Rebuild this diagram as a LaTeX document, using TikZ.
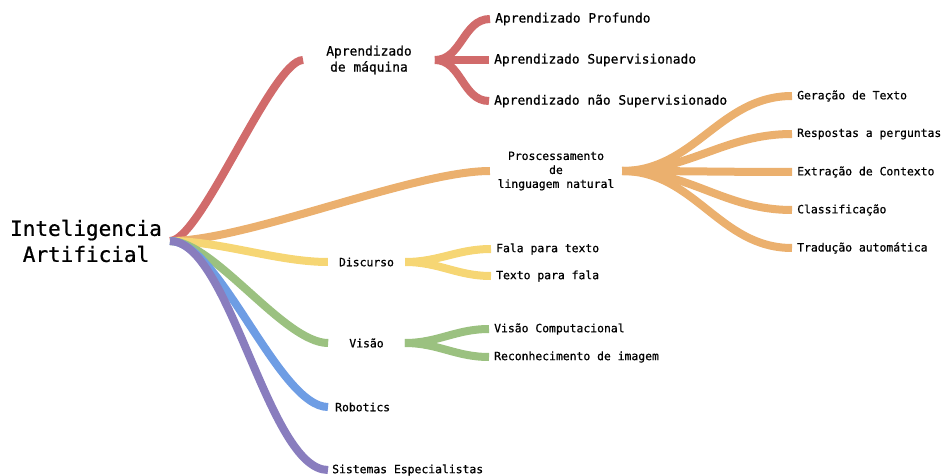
\documentclass[tikz,border=0pt]{standalone}
\usepackage{xcolor}
\usepackage{fontspec}
\usepackage{tikz}
\setmonofont[FakeBold=0.8]{DejaVu Sans Mono}

\definecolor{ramored}{HTML}{D16B6B}
\definecolor{ramoorange}{HTML}{EBB06E}
\definecolor{ramoyellow}{HTML}{F6D674}
\definecolor{ramogreen}{HTML}{9BC180}
\definecolor{ramoblue}{HTML}{6E9DE4}
\definecolor{ramopurple}{HTML}{897DBE}

\tikzset{
    ramo/.style={line width=8pt},
    curva/.style={out=0, in=180},
    folha/.style={anchor=west, inner xsep=5pt, inner ysep=1pt,
        font=\ttfamily\fontsize{11.4}{14}\selectfont},
    folhag/.style={folha, font=\ttfamily\fontsize{12.9}{16}\selectfont},
    meio/.style={align=center, inner xsep=#1, inner ysep=1pt,
        font=\ttfamily\fontsize{11.4}{14}\selectfont},
}

\begin{document}
\begin{tikzpicture}[x=1pt, y=-1pt]
            \useasboundingbox (0, 0) rectangle (943, 476);

            \node (ia) at (86, 241) [align=center, inner xsep=8pt,
                font=\ttfamily\fontsize{21}{26}\selectfont] {Inteligencia\\Artificial};

            \node (am) at (369, 60) [meio=23pt, font=\ttfamily\fontsize{12.9}{16}\selectfont]
                {Aprendizado\\de máquina};
            \node (pln) at (556, 171) [meio=7.5pt] {Proscessamento\\de\\linguagem natural};
            \node (disc) at (366.5, 262) [meio=11pt] {Discurso};
            \node (visao) at (366.5, 343) [meio=21pt] {Visão};
            \node (robo) at (328, 407) [folha, inner xsep=7pt] {Robotics};
            \node (se) at (328, 470) [folha, inner xsep=4pt] {Sistemas Especialistas};

            % aprendizado de maquina
            \node (ap) at (490, 19) [folhag] {Aprendizado Profundo};
            \node (as) at (489, 60) [folhag] {Aprendizado Supervisionado};
            \node (ans) at (489, 101) [folhag] {Aprendizado não Supervisionado};

            % linguagem natural
            \node (gt) at (792, 96) [folha] {Geração de Texto};
            \node (rp) at (792, 134) [folha] {Respostas a perguntas};
            \node (ec) at (792, 172) [folha] {Extração de Contexto};
            \node (cl) at (792, 210) [folha] {Classificação};
            \node (ta) at (792, 248) [folha] {Tradução automática};

            % discurso e visao
            \node (ft) at (491, 249) [folha] {Fala para texto};
            \node (tf) at (491, 276) [folha] {Texto para fala};
            \node (vc) at (489, 329) [folha] {Visão Computacional};
            \node (ri) at (489, 357) [folha] {Reconhecimento de imagem};

            \draw [ramo, ramored] (am.east) to [curva] (ap.west);
            \draw [ramo, ramored] (am.east) to [curva] (as.west);
            \draw [ramo, ramored] (am.east) to [curva] (ans.west);

            \foreach \f in {gt, rp, ec, cl, ta}
                \draw [ramo, ramoorange] (pln.east) to [curva] (\f.west);

            \draw [ramo, ramoyellow] (disc.east) to [curva] (ft.west);
            \draw [ramo, ramoyellow] (disc.east) to [curva] (tf.west);
            \draw [ramo, ramogreen] (visao.east) to [curva] (vc.west);
            \draw [ramo, ramogreen] (visao.east) to [curva] (ri.west);

            % ramos principais
            \draw [ramo, ramored] (ia.east) to [curva, looseness=.35] (am.west);
            \draw [ramo, ramoorange] (ia.east) to [curva, looseness=.6] (pln.west);
            \draw [ramo, ramoyellow] (ia.east) to [curva, looseness=.8] (disc.west);
            \draw [ramo, ramogreen] (ia.east) to [curva, looseness=.6] (visao.west);
            \draw [ramo, ramoblue] (ia.east) to [curva, looseness=.55] (robo.west);
            \draw [ramo, ramopurple] (ia.east) to [curva, looseness=.55] (se.west);
        \end{tikzpicture}
\end{document}
